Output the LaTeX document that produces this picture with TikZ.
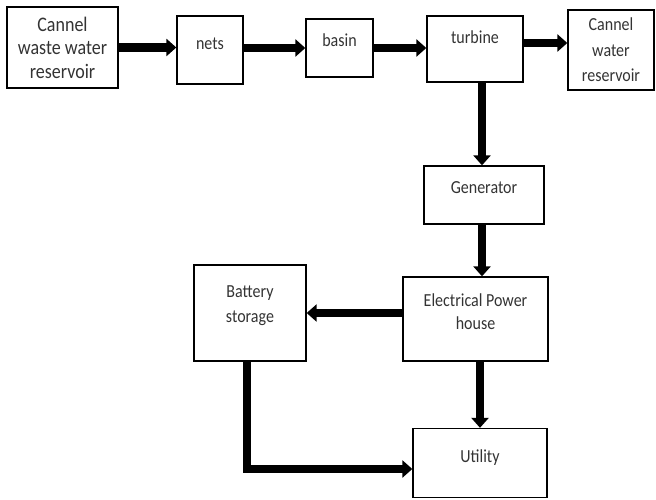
\documentclass[tikz,border=0pt]{standalone}
\usepackage{fontspec}
\setmainfont{Carlito}[FakeStretch=0.87]
\usetikzlibrary{arrows.meta,positioning,calc}

\tikzset{
  blockbox/.style={draw, line width=1.3pt, align=center, inner sep=2pt,
    font=\fontsize{18.4}{23}\selectfont, text=black!80},
  lift/.style={text depth=#1},
  flowarrow/.style={line width=8.5pt, line join=miter,
    -{Triangle[length=10pt, width=17pt]}}
}

\begin{document}
\begin{tikzpicture}[x=1pt, y=-1pt]
  \useasboundingbox (0,0) rectangle (656,500);

  % top row: water path
  \node[blockbox, font=\fontsize{20.7}{23.5}\selectfont,
    minimum width=111pt, minimum height=81pt] (wastres) at (62.5,47.5)
    {Cannel\\waste water\\reservoir};
  \node[blockbox, lift=12pt, minimum width=66pt, minimum height=68pt] (nets) at (210,50) {nets};
  \node[blockbox, lift=16pt, minimum width=67pt, minimum height=58pt] (basin) at (339.5,48) {basin};
  \node[blockbox, lift=24pt, minimum width=96pt, minimum height=66pt] (turbine) at (475,49) {turbine};
  \node[blockbox, font=\fontsize{18.4}{25.5}\selectfont,
    minimum width=86pt, minimum height=80pt] (waterres) at (611,50)
    {Cannel\\water\\reservoir};

  % electrical part
  \node[blockbox, lift=14pt, minimum width=120pt, minimum height=58pt] (gen) at (484,195) {Generator};
  \node[blockbox, lift=15pt, minimum width=145pt, minimum height=84pt] (powerhouse) at (475.5,319)
    {Electrical Power\\house};
  \node[blockbox, lift=18.5pt, font=\fontsize{18.4}{25}\selectfont,
    minimum width=112pt, minimum height=96pt] (battery) at (250,313)
    {Battery\\storage};
  \node[blockbox, lift=13.5pt, minimum width=134pt, minimum height=69pt] (utility) at (480,463) {Utility};

  % arrows along the top row
  \draw[flowarrow] (wastres.east) -- (wastres.east -| nets.west);
  \draw[flowarrow] (basin.west -| nets.east) -- (basin.west);
  \draw[flowarrow] (basin.east) -- (basin.east -| turbine.west);
  \draw[flowarrow] ([yshift=6pt]turbine.east) -- ([yshift=6pt]turbine.east -| waterres.west);

  % down to the generator and the power house
  \draw[flowarrow] ([xshift=7pt]turbine.south) -- ([xshift=7pt]turbine.south |- gen.north);
  \draw[flowarrow] ([xshift=-2pt]gen.south) -- ([xshift=-2pt]gen.south |- powerhouse.north);

  % power house to storage and utility
  \draw[flowarrow] (powerhouse.west |- battery.east) -- (battery.east);
  \draw[flowarrow] (utility.north |- powerhouse.south) -- (utility.north);
  \draw[flowarrow] ([xshift=-3pt]battery.south) |- ([yshift=-6pt]utility.west);
\end{tikzpicture}
\end{document}
